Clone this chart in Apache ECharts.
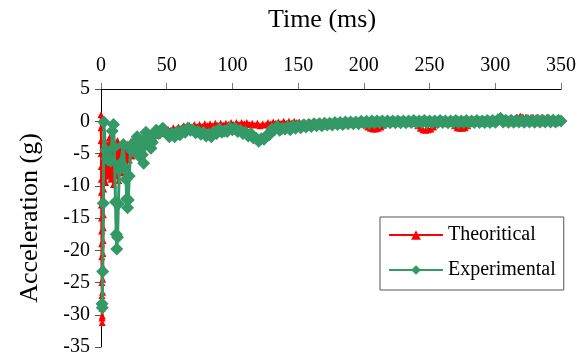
<!DOCTYPE html>
<html>
<head>
<meta charset="utf-8">
<script src="https://cdn.jsdelivr.net/npm/echarts@6/dist/echarts.min.js"></script>
<style>
html,body{margin:0;padding:0;background:#fff;}
#chart{width:585px;height:358px;}
</style>
</head>
<body>
<div id="chart"></div>
<script>
// Tick values
var xTicks = [0, 50, 100, 150, 200, 250, 300, 350];
var yTicks = [5, 0, -5, -10, -15, -20, -25, -30, -35];

// Theoritical series (time in ms, acceleration in g)
var thT = [0,0.05,0.1,0.15,0.2,0.25,0.3,0.35,0.4,0.45,0.5,0.55,0.6,0.65,0.7,0.75,0.8,0.9,1.0,
  1.1,1.2,1.3,1.4,1.5,1.6,1.7,1.8,1.9,2.0,2.2,
  2.8,3.5,4.5,5.5,6.5,7.5,8.5,9.5,10.5,11.5,12.5,13.5,14.5,15.5,16.5,17.5,18.5,19.5,20.5,21.5,22.5,23.5,24.5,25.5,26.5,
  28,29.5,31,32.5,34,35.5,37,38.5,40,41.5,43,44.5,46,47.5,49,
  51,53,55,57,59,61,63,65,67,69,71,73,75,77,79,81,83,85,87,89,91,93,95,97,99,
  101,103,105,107,109,111,113,115,117,119,121,123,125,127,129,131,133,135,137,139,141,143,145,147,149,
  151,153,155,157,159,161,163,165,167,169,171,173,175,177,179,181,183,185,187,189,191,193,195,197,199,
  201,203,205,207,209,211,213,215,217,219,221,223,225,227,229,231,233,235,237,239,241,243,245,247,249,
  251,253,255,257,259,261,263,265,267,269,271,273,275,277,279,281,283,285,287,289,291,293,295,297,299,
  301,303,305,307,309,311,313,315,317,319,321,323,325,327,329,331,333,335,337,339,341,343,345,347,349];
var thV = [1.0,-1,-3,-5,-7,-9,-11,-13,-15,-17,-19,-21,-23,-25,-27,-29,-30.5,-31.2,-30.2,
  -28.5,-26.5,-24.5,-22.5,-20.5,-18.5,-16.5,-14.5,-12.5,-10.5,-8.5,
  -3,-9.5,-3.5,-8.5,-2.5,-9,-3.5,-9.8,-4,-8.5,-3,-9.2,-4.5,-8,-4,-7.2,-3.8,-6.8,-3.5,-6,-3.2,-5.4,-3,-4.8,-2.8,
  -4.2,-2.6,-3.6,-2.4,-3.2,-2.2,-2.8,-2.0,-2.5,-1.8,-2.2,-1.6,-1.9,-1.5,-1.7,
  -1.2,-1.4,-1.0,-1.3,-0.9,-1.1,-0.7,-1.0,-0.6,-0.9,-0.5,-0.8,-0.5,-0.8,-0.4,-0.7,-0.4,-0.7,-0.3,-0.6,-0.3,-0.6,-0.3,-0.5,-0.2,
  -0.5,-0.2,-0.5,-0.2,-0.4,-0.2,-0.5,-0.3,-0.6,-0.3,-0.7,-0.4,-0.6,-0.2,-0.4,-0.1,-0.3,-0.1,-0.3,0,-0.3,0,-0.3,0,-0.2,
  -0.1,-0.3,-0.1,-0.3,-0.1,-0.2,-0.1,-0.2,0,-0.2,0,-0.1,0,-0.1,0,-0.1,0,-0.1,0,-0.1,0,-0.1,0,-0.1,-0.2,
  -0.5,-0.9,-1.1,-1.2,-1.2,-1.1,-0.9,-0.6,-0.3,-0.1,0,-0.1,0,-0.1,0,0,-0.1,0,-0.1,-0.3,-0.7,-1.1,-1.3,-1.4,-1.3,
  -1.2,-0.9,-0.5,-0.2,0,0,-0.1,-0.1,-0.3,-0.7,-1.0,-1.1,-1.1,-1.0,-0.7,-0.3,-0.1,0,0.1,0,0.1,0,0.1,0.1,0,
  0.1,0.1,0.1,0.2,0.1,0.2,0.2,0.4,0.6,0.8,0.7,0.6,0.6,0.6,0.6,0.6,0.6,0.6,0.5,0.6,0.5,0.3,0.2,0.2,0.1];

// Experimental series
var expT = [0.8,1.0,1.3,1.7,2.2,3.5,4.5,5.5,6.5,7.5,8.5,9.5,10.2,11,11.6,12,12.6,13.2,14,15,16,17,18,19,19.6,20.2,20.8,21.5,
  22.5,23.5,24.5,25.5,26.5,27.5,28.5,29.5,30.5,31.5,32.5,33.5,34.2,35,36,37,38,39,40,41,42,43,44,45,46,47,48,49,50,
  52,54,56,58,60,62,64,66,68,70,72,74,76,78,80,82,84,86,88,90,92,94,96,98,100,
  102,104,106,108,110,112,114,116,118,120,122,124,126,128,130,132,134,136,138,140,142,144,146,148,150,
  152,154,156,158,160,162,164,166,168,170,172,174,176,178,180,182,184,186,188,190,192,194,196,198,200,
  202,204,206,208,210,212,214,216,218,220,222,224,226,228,230,232,234,236,238,240,242,244,246,248,250,
  252,254,256,258,260,262,264,266,268,270,272,274,276,278,280,282,284,286,288,290,292,294,296,298,300,
  302,304,306,308,310,312,314,316,318,320,322,324,326,328,330,332,334,336,338,340,342,344,346,348,350];
var expV = [-28.3,-28.9,-23.3,-12.7,-0.1,-4.5,-5.8,-6,-5.8,-6.2,-1.5,-0.5,-4,-12.5,-17.5,-19.8,-18,-12.8,-7.5,-6.5,-6.8,-3.6,-7.2,-9,-12,-13.4,-12.2,-8.5,
  -4.2,-4.6,-3.5,-4.4,-3,-2.4,-4.4,-5.5,-3.8,-5.2,-6.5,-3,-1.7,-2.6,-3.4,-3,-4.2,-3.3,-2.2,-1.8,-1.4,-1.6,-1.9,-1.7,-1.3,-1.1,-1.4,-1.6,-1.9,
  -2.4,-1.9,-2.4,-1.6,-2.1,-1.4,-1.7,-1.1,-1.4,-1.3,-1.8,-1.6,-2.0,-1.7,-2.3,-2.0,-2.4,-1.6,-1.9,-1.2,-1.7,-1.5,-1.6,-1.0,-1.3,
  -1.1,-1.6,-1.4,-1.9,-1.7,-2.3,-1.9,-2.6,-2.6,-3.1,-2.7,-2.8,-2.2,-2.1,-1.2,-1.3,-0.8,-1.4,-1.1,-1.2,-0.9,-1.3,-0.7,-1.1,-0.7,
  -1.0,-0.6,-0.9,-0.5,-0.8,-0.4,-0.7,-0.4,-0.7,-0.3,-0.6,-0.3,-0.6,-0.2,-0.5,-0.2,-0.5,-0.1,-0.4,-0.1,-0.4,-0.1,-0.4,0,-0.3,
  0,-0.3,0.05,-0.25,0.05,-0.25,0.05,-0.25,0.05,-0.25,0.05,-0.25,0.05,-0.25,0.05,-0.25,0.05,-0.2,0.1,-0.25,0.05,-0.2,0.1,-0.2,0.05,
  -0.25,0.05,-0.25,0.1,-0.2,0.05,-0.25,0.05,-0.2,0.1,-0.25,0.05,-0.2,0.1,-0.2,0.05,-0.2,0.1,-0.2,0.05,-0.2,0.1,-0.2,0.1,-0.15,
  0.25,0.45,-0.1,0.15,-0.15,0.15,-0.15,0.15,-0.1,0.15,-0.15,0.15,-0.1,0.15,-0.15,0.15,-0.1,0.15,-0.1,0.2,-0.1,0.15,-0.1,0.15,0.05];

var seriesNames = ['Theoritical', 'Experimental'];

function pairs(t, v) {
  var out = [];
  for (var i = 0; i < t.length; i++) out.push([t[i], v[i]]);
  return out;
}

var FONT = '"Liberation Serif","Times New Roman",serif';
var chart = echarts.init(document.getElementById('chart'));
chart.setOption({
  animation: false,
  backgroundColor: '#ffffff',
  grid: { left: 101, right: 24, top: 89, bottom: 11, containLabel: false },
  xAxis: {
    type: 'value', position: 'top', min: xTicks[0], max: xTicks[xTicks.length - 1], interval: 50,
    name: 'Time (ms)', nameLocation: 'middle', nameGap: 56,
    nameTextStyle: { fontFamily: FONT, fontSize: 26, color: '#000', padding: [0, 18, 0, 0] },
    axisLine: { onZero: false, lineStyle: { color: '#000', width: 1 } },
    axisTick: { show: true, length: 6, lineStyle: { color: '#777' } },
    axisLabel: { fontFamily: FONT, fontSize: 20, color: '#000', margin: 13 },
    splitLine: { show: false }
  },
  yAxis: {
    type: 'value', min: yTicks[yTicks.length - 1], max: yTicks[0], interval: 5,
    name: 'Acceleration (g)', nameLocation: 'middle', nameGap: 58, nameRotate: 90,
    nameTextStyle: { fontFamily: FONT, fontSize: 26, color: '#000' },
    axisLine: { onZero: false, lineStyle: { color: '#000', width: 1 } },
    axisTick: { show: true, length: 6, lineStyle: { color: '#555' } },
    axisLabel: { fontFamily: FONT, fontSize: 20, color: '#000', margin: 11 },
    splitLine: { show: false }
  },
  legend: {
    left: 380, top: 217, orient: 'vertical',
    backgroundColor: '#fff', borderColor: '#555', borderWidth: 1,
    padding: [8, 8, 10, 8], itemGap: 15, itemWidth: 54, itemHeight: 12,
    textStyle: { fontFamily: FONT, fontSize: 20, color: '#000', lineHeight: 20, padding: [0, 0, 0, 0] },
    data: seriesNames
  },
  series: [
    {
      name: seriesNames[0], type: 'line', data: pairs(thT, thV),
      symbol: 'triangle', symbolSize: 7,
      itemStyle: { color: '#ff0000' }, lineStyle: { color: '#ff0000', width: 2.5 },
      z: 2
    },
    {
      name: seriesNames[1], type: 'line', data: pairs(expT, expV),
      symbol: 'diamond', symbolSize: 13,
      itemStyle: { color: '#339966' }, lineStyle: { color: '#339966', width: 3 },
      z: 3
    }
  ]
});
</script>
</body>
</html>
